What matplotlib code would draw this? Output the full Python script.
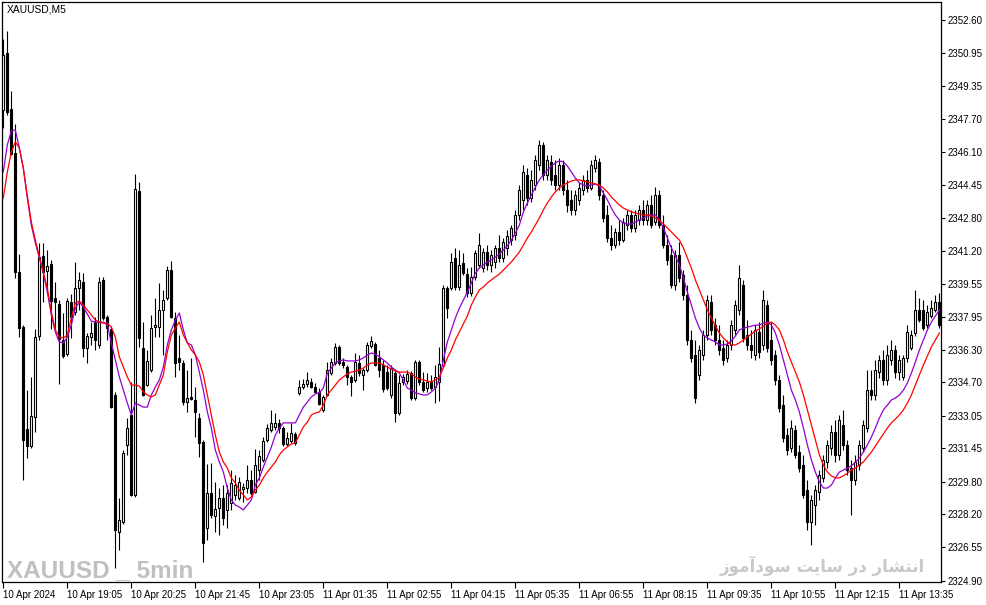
import numpy as np
import pandas as pd
import matplotlib
matplotlib.use("Agg")
import matplotlib.pyplot as plt

plt.rcParams["font.family"] = ["Liberation Sans", "DejaVu Sans"]

symbol = "XAUUSD,M5"

opens = [2348.16, 2350.97, 2348.21, 2346.03, 2340.15, 2337.44, 2332.40, 2331.56, 2332.99, 2336.99,
         2340.94, 2340.20, 2340.55, 2338.87, 2338.57, 2336.79, 2336.10, 2338.67, 2338.18, 2339.36,
         2339.66, 2336.40, 2336.94, 2337.69, 2336.55, 2339.76, 2337.93, 2337.34, 2334.07, 2327.31,
         2327.80, 2331.61, 2333.09, 2329.14, 2344.15, 2336.40, 2334.58, 2335.31, 2337.44, 2337.44,
         2338.28, 2338.87, 2340.25, 2337.88, 2335.91, 2335.66, 2333.73, 2333.98, 2333.83, 2332.94,
         2331.76, 2327.51, 2329.24, 2328.10, 2328.49, 2328.99, 2328.40, 2328.74, 2329.14, 2328.99,
         2329.43, 2329.48, 2329.88, 2329.29, 2330.37, 2330.87, 2331.85, 2332.35, 2332.49, 2332.69,
         2332.45, 2331.66, 2331.80, 2332.15, 2334.18, 2334.48, 2334.63, 2334.73, 2334.48, 2334.23,
         2333.34, 2334.07, 2335.16, 2335.66, 2336.45, 2335.71, 2335.46, 2334.97, 2334.83, 2335.66,
         2335.06, 2335.31, 2336.50, 2336.60, 2335.91, 2335.56, 2335.21, 2334.07, 2335.16, 2333.19,
         2334.73, 2334.78, 2335.16, 2333.94, 2335.71, 2334.73, 2334.43, 2334.73, 2334.48, 2334.73,
         2335.56, 2339.36, 2339.36, 2340.84, 2339.41, 2340.60, 2340.05, 2339.12, 2339.91, 2340.50,
         2340.35, 2341.14, 2340.50, 2340.65, 2341.34, 2340.84, 2341.34, 2341.74, 2341.98, 2342.97,
         2343.71, 2344.94, 2343.81, 2344.45, 2345.44, 2346.43, 2344.94, 2345.59, 2344.94, 2344.45,
         2345.44, 2344.20, 2343.71, 2343.22, 2343.71, 2344.20, 2344.70, 2344.30, 2345.29, 2345.59,
         2343.96, 2342.97, 2341.83, 2341.49, 2342.13, 2341.74, 2342.48, 2342.97, 2342.33, 2342.72,
         2343.22, 2342.72, 2343.46, 2342.62, 2343.96, 2342.48, 2341.49, 2340.99, 2339.51, 2340.99,
         2340.00, 2339.02, 2336.79, 2336.06, 2335.06, 2336.06, 2337.04, 2338.67, 2337.53, 2336.79,
         2336.40, 2335.91, 2336.55, 2337.29, 2338.28, 2339.51, 2337.04, 2336.55, 2336.06, 2337.19,
         2336.55, 2338.52, 2336.79, 2336.06, 2334.83, 2333.58, 2332.10, 2331.46, 2332.35, 2331.26,
         2330.62, 2329.39, 2327.80, 2328.64, 2329.29, 2329.98, 2330.77, 2331.46, 2332.25, 2331.11,
         2332.59, 2331.61, 2330.47, 2329.88, 2330.62, 2331.46, 2332.45, 2334.33, 2334.07, 2335.21,
         2335.81, 2334.83, 2335.81, 2336.30, 2335.21, 2334.97, 2335.91, 2336.40, 2337.14, 2338.28,
         2338.28, 2337.53, 2337.98, 2338.28, 2338.67]

highs = [2351.66, 2352.06, 2349.09, 2347.46, 2341.04, 2337.53, 2334.32, 2334.97, 2337.34, 2341.59,
         2341.59, 2341.24, 2340.75, 2339.66, 2338.77, 2338.13, 2338.87, 2339.07, 2340.65, 2340.15,
         2340.10, 2337.14, 2337.69, 2337.93, 2339.91, 2339.91, 2338.03, 2337.49, 2334.22, 2328.99,
         2331.36, 2332.94, 2334.73, 2344.99, 2344.60, 2337.69, 2336.30, 2338.03, 2338.87, 2339.61,
         2339.27, 2340.45, 2340.70, 2338.18, 2337.04, 2335.81, 2335.31, 2335.91, 2334.48, 2333.19,
         2331.86, 2330.67, 2330.72, 2329.78, 2329.48, 2329.63, 2329.63, 2330.37, 2330.12, 2330.02,
         2329.73, 2330.62, 2330.37, 2331.41, 2331.36, 2332.00, 2332.64, 2333.34, 2333.19, 2332.89,
         2332.54, 2332.25, 2332.69, 2332.25, 2334.83, 2334.87, 2335.21, 2334.92, 2334.68, 2334.43,
         2334.07, 2335.71, 2335.91, 2336.65, 2336.55, 2335.91, 2335.56, 2335.06, 2336.15, 2336.06,
         2335.41, 2336.70, 2336.99, 2336.70, 2336.30, 2335.81, 2335.56, 2335.56, 2335.31, 2335.06,
         2335.11, 2335.31, 2335.26, 2335.81, 2335.81, 2335.21, 2335.16, 2335.06, 2335.56, 2336.45,
         2339.51, 2339.46, 2341.09, 2341.34, 2341.24, 2341.09, 2340.35, 2340.40, 2341.24, 2342.08,
         2341.34, 2341.49, 2341.24, 2341.49, 2341.98, 2341.83, 2342.23, 2342.48, 2343.22, 2344.45,
         2345.44, 2345.29, 2345.19, 2345.93, 2346.68, 2346.58, 2345.93, 2345.93, 2345.69, 2345.79,
         2345.69, 2344.70, 2344.20, 2344.20, 2344.60, 2344.94, 2345.19, 2345.69, 2345.93, 2345.79,
         2344.20, 2343.46, 2342.48, 2342.33, 2342.72, 2342.82, 2343.22, 2343.22, 2343.22, 2343.46,
         2343.71, 2343.71, 2343.96, 2344.35, 2344.20, 2342.97, 2341.98, 2341.49, 2341.24, 2341.64,
         2340.25, 2339.51, 2337.29, 2336.79, 2336.55, 2337.29, 2339.02, 2339.02, 2337.88, 2337.53,
         2336.79, 2336.79, 2337.79, 2338.77, 2340.50, 2339.76, 2337.79, 2337.29, 2337.53, 2337.69,
         2339.27, 2338.77, 2337.69, 2336.30, 2335.06, 2334.07, 2332.45, 2332.84, 2332.59, 2331.61,
         2331.11, 2329.88, 2329.14, 2329.63, 2330.37, 2331.11, 2331.86, 2332.59, 2332.84, 2333.09,
         2333.34, 2331.86, 2330.87, 2331.11, 2331.86, 2332.84, 2335.31, 2335.31, 2335.81, 2336.06,
         2336.30, 2336.55, 2336.79, 2336.55, 2336.06, 2336.06, 2337.53, 2337.29, 2339.27, 2338.87,
         2338.77, 2338.52, 2338.77, 2339.02, 2339.12]

lows = [2347.27, 2347.91, 2345.93, 2339.86, 2336.94, 2329.88, 2330.95, 2331.46, 2332.25, 2336.79,
        2338.67, 2339.12, 2337.34, 2337.34, 2334.63, 2335.91, 2336.01, 2336.89, 2338.03, 2338.28,
        2335.96, 2335.66, 2336.55, 2336.30, 2336.40, 2337.79, 2336.79, 2333.43, 2325.53, 2326.42,
        2327.70, 2331.11, 2329.09, 2329.04, 2336.45, 2334.04, 2334.53, 2335.21, 2336.94, 2336.94,
        2336.06, 2338.77, 2337.88, 2334.97, 2335.31, 2333.58, 2333.24, 2333.83, 2332.00, 2331.01,
        2325.83, 2326.91, 2328.00, 2327.31, 2327.16, 2327.65, 2327.51, 2328.40, 2328.89, 2328.89,
        2328.79, 2329.24, 2329.14, 2329.24, 2329.88, 2330.77, 2331.76, 2332.25, 2332.35, 2332.20,
        2331.56, 2331.56, 2331.71, 2331.61, 2334.07, 2334.38, 2334.48, 2334.43, 2334.18, 2333.58,
        2333.24, 2334.02, 2335.06, 2335.56, 2335.56, 2335.41, 2334.58, 2334.04, 2334.73, 2335.02,
        2334.33, 2335.21, 2336.40, 2335.51, 2334.97, 2334.23, 2334.33, 2333.94, 2332.74, 2333.09,
        2334.58, 2334.63, 2333.83, 2333.83, 2334.58, 2334.23, 2334.23, 2334.33, 2333.68, 2333.78,
        2335.46, 2337.88, 2339.27, 2339.27, 2339.27, 2340.00, 2338.92, 2338.97, 2339.76, 2340.35,
        2340.15, 2340.25, 2340.15, 2340.35, 2340.65, 2340.65, 2340.99, 2341.49, 2341.74, 2342.72,
        2343.22, 2343.46, 2343.61, 2344.20, 2345.19, 2344.70, 2344.70, 2344.45, 2344.20, 2344.20,
        2343.96, 2343.12, 2342.97, 2342.97, 2343.46, 2343.96, 2344.10, 2344.20, 2345.09, 2343.71,
        2342.62, 2341.64, 2341.24, 2341.34, 2341.49, 2341.64, 2342.23, 2342.13, 2342.13, 2342.48,
        2342.48, 2342.48, 2342.33, 2342.48, 2342.33, 2341.34, 2340.50, 2339.36, 2339.27, 2339.66,
        2338.77, 2336.55, 2335.71, 2333.68, 2334.83, 2335.81, 2336.79, 2337.04, 2336.55, 2336.06,
        2335.56, 2335.71, 2336.30, 2337.04, 2338.03, 2336.70, 2336.30, 2335.91, 2335.81, 2335.91,
        2336.30, 2336.20, 2335.56, 2334.58, 2333.24, 2331.76, 2331.11, 2331.26, 2330.96, 2330.27,
        2328.99, 2327.41, 2326.67, 2327.65, 2328.89, 2329.78, 2330.47, 2331.11, 2330.77, 2330.87,
        2331.36, 2330.12, 2328.15, 2329.63, 2330.37, 2331.26, 2332.25, 2333.83, 2333.83, 2334.92,
        2334.58, 2334.58, 2335.56, 2334.92, 2334.83, 2334.83, 2335.71, 2336.30, 2336.99, 2337.69,
        2337.29, 2337.39, 2337.88, 2338.18, 2337.39]

closes = [2350.87, 2348.06, 2345.98, 2340.15, 2337.39, 2331.85, 2331.56, 2333.04, 2336.94, 2340.89,
          2340.15, 2340.45, 2338.72, 2338.67, 2336.84, 2336.01, 2338.72, 2337.93, 2339.36, 2339.76,
          2336.40, 2336.99, 2337.14, 2336.79, 2339.66, 2337.88, 2337.39, 2333.48, 2327.41, 2327.90,
          2331.21, 2332.45, 2329.14, 2344.25, 2336.89, 2334.07, 2335.76, 2337.39, 2337.53, 2338.28,
          2338.77, 2340.25, 2337.93, 2335.66, 2335.71, 2333.73, 2333.94, 2333.88, 2333.24, 2331.71,
          2326.77, 2329.24, 2328.15, 2328.44, 2328.99, 2328.00, 2329.24, 2329.73, 2329.63, 2329.78,
          2329.53, 2329.88, 2329.24, 2330.62, 2331.06, 2331.80, 2332.45, 2332.69, 2332.69, 2332.45,
          2331.66, 2331.95, 2332.20, 2331.71, 2334.48, 2334.63, 2334.83, 2334.48, 2334.23, 2333.63,
          2333.98, 2335.31, 2335.71, 2336.45, 2335.66, 2335.56, 2334.97, 2334.73, 2335.71, 2335.16,
          2335.31, 2336.55, 2336.75, 2335.56, 2335.31, 2334.38, 2334.43, 2335.41, 2333.19, 2334.68,
          2334.97, 2335.11, 2333.94, 2335.71, 2334.73, 2334.33, 2334.73, 2334.43, 2334.97, 2335.61,
          2339.36, 2338.38, 2340.65, 2339.41, 2340.50, 2340.10, 2339.12, 2339.91, 2341.09, 2341.49,
          2341.14, 2340.50, 2340.99, 2341.34, 2340.84, 2341.64, 2341.93, 2342.33, 2342.97, 2344.20,
          2345.09, 2343.81, 2344.70, 2345.69, 2346.43, 2344.94, 2345.69, 2344.70, 2344.45, 2345.44,
          2344.20, 2343.46, 2343.22, 2343.96, 2344.30, 2344.70, 2344.30, 2345.44, 2345.69, 2343.96,
          2342.82, 2341.83, 2341.49, 2342.13, 2341.74, 2342.62, 2342.97, 2342.33, 2342.97, 2343.22,
          2342.72, 2343.46, 2342.48, 2343.96, 2342.48, 2341.49, 2340.75, 2339.51, 2340.99, 2339.86,
          2339.02, 2336.79, 2335.91, 2333.94, 2336.30, 2337.04, 2338.77, 2337.29, 2336.79, 2336.30,
          2335.81, 2336.55, 2337.53, 2338.52, 2339.86, 2336.89, 2336.55, 2336.30, 2337.29, 2336.20,
          2338.77, 2336.40, 2335.81, 2334.83, 2333.43, 2331.95, 2331.36, 2332.45, 2331.11, 2330.47,
          2329.14, 2327.80, 2328.89, 2329.39, 2330.12, 2330.87, 2331.61, 2332.25, 2331.11, 2332.84,
          2331.61, 2330.37, 2329.88, 2330.77, 2331.61, 2332.59, 2334.33, 2334.07, 2335.31, 2335.81,
          2334.83, 2336.06, 2336.30, 2335.21, 2335.81, 2335.91, 2337.19, 2337.04, 2338.28, 2337.79,
          2337.39, 2338.18, 2338.38, 2338.67, 2337.53]

# moving average lines as shown on the chart (purple = fast, red = slow)
ma_purple = [2345.09, 2346.43, 2347.12, 2347.17, 2346.28, 2345.29, 2343.81, 2342.47, 2341.59, 2340.84,
             2340.10, 2339.16, 2338.03, 2337.19, 2336.70, 2336.65, 2336.94, 2337.53, 2338.37, 2338.67,
             2338.42, 2338.08, 2337.73, 2337.68, 2337.68, 2337.68, 2337.53, 2336.65, 2335.81, 2334.97,
             2334.32, 2333.68, 2333.09, 2333.68, 2333.58, 2333.48, 2333.48, 2334.08, 2334.47, 2334.82,
             2335.46, 2336.55, 2337.29, 2337.78, 2338.13, 2337.29, 2336.65, 2336.55, 2336.06, 2335.21,
             2334.32, 2333.24, 2332.45, 2331.36, 2330.77, 2330.27, 2329.48, 2328.89, 2328.64, 2328.54,
             2328.40, 2328.64, 2328.89, 2329.63, 2329.98, 2330.52, 2331.02, 2331.51, 2332.10, 2332.45,
             2332.70, 2332.70, 2332.70, 2332.70, 2333.09, 2333.48, 2333.73, 2333.98, 2334.13, 2334.18,
             2334.42, 2335.16, 2335.41, 2335.66, 2335.76, 2335.81, 2335.76, 2335.76, 2335.76, 2335.81,
             2335.91, 2336.06, 2336.15, 2336.10, 2335.96, 2335.81, 2335.66, 2335.46, 2335.31, 2335.16,
             2334.82, 2334.42, 2334.32, 2334.18, 2334.13, 2334.08, 2334.08, 2334.23, 2334.42, 2334.82,
             2335.81, 2336.70, 2337.29, 2337.88, 2338.37, 2338.77, 2339.16, 2339.61, 2340.10, 2340.35,
             2340.50, 2340.65, 2340.75, 2340.89, 2341.04, 2341.24, 2341.44, 2341.73, 2342.08, 2342.47,
             2343.12, 2343.56, 2343.96, 2344.35, 2344.70, 2344.95, 2345.19, 2345.39, 2345.54, 2345.64,
             2345.59, 2345.39, 2345.09, 2344.80, 2344.55, 2344.45, 2344.40, 2344.45, 2344.50, 2344.40,
             2344.06, 2343.71, 2343.31, 2342.97, 2342.72, 2342.57, 2342.52, 2342.52, 2342.62, 2342.72,
             2342.82, 2342.92, 2342.97, 2342.97, 2342.72, 2342.33, 2341.83, 2341.34, 2340.94, 2340.50,
             2339.86, 2339.16, 2338.52, 2337.88, 2337.38, 2337.04, 2336.89, 2336.79, 2336.70, 2336.55,
             2336.55, 2336.60, 2336.75, 2336.99, 2337.29, 2337.38, 2337.43, 2337.48, 2337.53, 2337.53,
             2337.63, 2337.68, 2337.53, 2337.14, 2336.55, 2335.81, 2335.07, 2334.32, 2333.83, 2333.24,
             2332.45, 2331.61, 2330.87, 2330.27, 2329.78, 2329.48, 2329.48, 2329.63, 2329.98, 2330.27,
             2330.37, 2330.47, 2330.57, 2330.77, 2330.96, 2331.26, 2331.61, 2332.00, 2332.45, 2332.94,
             2333.34, 2333.58, 2333.83, 2333.93, 2334.08, 2334.32, 2334.67, 2335.16, 2335.71, 2336.30,
             2336.80, 2337.29, 2337.68, 2337.98, 2338.28]

ma_red = [2343.81, 2345.09, 2346.08, 2346.58, 2346.28, 2345.29, 2343.91, 2342.62, 2341.73, 2340.94,
          2340.15, 2339.36, 2338.18, 2337.29, 2336.94, 2336.89, 2337.04, 2337.88, 2338.62, 2338.72,
          2338.52, 2338.28, 2338.03, 2337.78, 2337.68, 2337.63, 2337.63, 2337.43, 2336.94, 2335.96,
          2335.46, 2334.97, 2334.57, 2334.57, 2334.52, 2334.23, 2334.08, 2333.98, 2334.08, 2334.57,
          2335.07, 2336.20, 2337.04, 2337.38, 2337.68, 2337.04, 2336.65, 2336.30, 2336.06, 2335.71,
          2335.07, 2334.08, 2333.09, 2332.10, 2331.26, 2330.77, 2330.47, 2329.98, 2329.73, 2329.38,
          2329.14, 2328.89, 2329.04, 2329.38, 2329.63, 2329.98, 2330.27, 2330.52, 2330.77, 2331.12,
          2331.36, 2331.51, 2331.66, 2331.71, 2332.10, 2332.50, 2332.74, 2333.09, 2333.19, 2333.24,
          2333.58, 2334.08, 2334.32, 2334.57, 2334.82, 2334.97, 2335.12, 2335.21, 2335.26, 2335.31,
          2335.41, 2335.56, 2335.66, 2335.66, 2335.66, 2335.56, 2335.46, 2335.36, 2335.26, 2335.21,
          2335.21, 2335.21, 2335.12, 2334.97, 2334.87, 2334.82, 2334.77, 2334.72, 2334.82, 2334.97,
          2335.41, 2335.91, 2336.30, 2336.80, 2337.19, 2337.58, 2337.98, 2338.52, 2338.92, 2339.27,
          2339.41, 2339.61, 2339.76, 2339.91, 2340.05, 2340.25, 2340.45, 2340.65, 2340.89, 2341.14,
          2341.49, 2341.83, 2342.13, 2342.47, 2342.82, 2343.22, 2343.56, 2343.86, 2344.11, 2344.30,
          2344.45, 2344.55, 2344.65, 2344.70, 2344.70, 2344.65, 2344.60, 2344.55, 2344.50, 2344.45,
          2344.30, 2344.11, 2343.86, 2343.66, 2343.46, 2343.31, 2343.22, 2343.12, 2343.07, 2343.02,
          2342.97, 2342.97, 2342.92, 2342.82, 2342.72, 2342.52, 2342.33, 2342.13, 2341.93, 2341.73,
          2341.34, 2340.84, 2340.35, 2339.76, 2339.27, 2338.77, 2338.28, 2337.88, 2337.48, 2337.14,
          2336.89, 2336.70, 2336.55, 2336.55, 2336.65, 2336.80, 2336.94, 2337.09, 2337.24, 2337.34,
          2337.48, 2337.63, 2337.68, 2337.53, 2337.29, 2336.80, 2336.20, 2335.71, 2335.21, 2334.72,
          2334.08, 2333.34, 2332.60, 2331.86, 2331.12, 2330.62, 2330.27, 2330.08, 2329.98, 2329.98,
          2330.08, 2330.22, 2330.37, 2330.47, 2330.62, 2330.77, 2331.02, 2331.26, 2331.56, 2331.86,
          2332.15, 2332.45, 2332.70, 2332.89, 2333.09, 2333.34, 2333.68, 2334.08, 2334.57, 2335.07,
          2335.56, 2336.01, 2336.45, 2336.80, 2337.14]

x_tick_idx = list(range(0, 225, 16))
x_tick_labels = ["10 Apr 2024", "10 Apr 19:05", "10 Apr 20:25", "10 Apr 21:45", "10 Apr 23:05",
                 "11 Apr 01:35", "11 Apr 02:55", "11 Apr 04:15", "11 Apr 05:35", "11 Apr 06:55",
                 "11 Apr 08:15", "11 Apr 09:35", "11 Apr 10:55", "11 Apr 12:15", "11 Apr 13:35"]
y_ticks = [2324.90, 2326.55, 2328.20, 2329.80, 2331.45, 2333.05, 2334.70, 2336.30, 2337.95,
           2339.55, 2341.20, 2342.80, 2344.45, 2346.10, 2347.70, 2349.35, 2350.95, 2352.60]

# Persian watermark, shaped to presentation forms and reversed for left-to-right drawing
fa_logical = ("\uFE8D\uFEE7\uFE98\uFEB8\uFE8E\uFEAD" + " " + "\uFEA9\uFEAD" + " "
              + "\uFEB3\uFE8E\uFEF3\uFE96" + " " + "\uFEB3\uFEEE\uFEA9\uFE81\uFEE3\uFEEE\uFEAF")
fa_visual = fa_logical[::-1]

df = pd.DataFrame({"o": opens, "h": highs, "l": lows, "c": closes})
idx = np.arange(len(df))

W, H = 987, 605
fig = plt.figure(figsize=(W / 100, H / 100), dpi=100)
ax = fig.add_axes([2 / W, 23 / H, 939 / W, 580 / H])

# candles
ax.vlines(idx, df.l, df.h, color="black", lw=0.8, zorder=2)
up = (df.c >= df.o).values
ax.bar(idx[up], (df.c - df.o)[up], bottom=df.o[up], width=0.55,
       facecolor="white", edgecolor="black", lw=0.8, zorder=3)
ax.bar(idx[~up], (df.o - df.c)[~up], bottom=df.c[~up], width=0.55,
       facecolor="black", edgecolor="black", lw=0.8, zorder=3)

# moving averages
ax.plot(idx, ma_purple, color="#9400d3", lw=0.9, zorder=4)
ax.plot(idx, ma_red, color="#ff0000", lw=0.9, zorder=5)

ax.set_xlim(-0.33, 234.4)
ax.set_ylim(2324.84, 2353.49)
ax.yaxis.tick_right()
ax.set_yticks(y_ticks)
ax.set_yticklabels([f"{v:.2f}" for v in y_ticks])
ax.set_xticks(x_tick_idx)
ax.set_xticklabels(x_tick_labels, ha="left")
ax.tick_params(axis="y", direction="out", length=3, width=0.8, pad=2, labelsize=7)
ax.tick_params(axis="x", direction="out", length=4, width=0.8, pad=2, labelsize=7)
for sp in ax.spines.values():
    sp.set_linewidth(0.9)

fig.text(7 / W, 1 - 10 / H, symbol, fontsize=7.4, va="center", ha="left")
fig.text(7 / W, 1 - 577 / H, "XAUUSD _ 5min", fontsize=17.5, fontweight="bold",
         color="#c0c0c0", va="baseline", ha="left")
fig.text(925 / W, 1 - 572 / H, fa_visual, fontsize=12, fontweight="bold",
         family=["DejaVu Sans"], color="#c8c8c8", va="baseline", ha="right")

fig.savefig("out.png", dpi=100)
